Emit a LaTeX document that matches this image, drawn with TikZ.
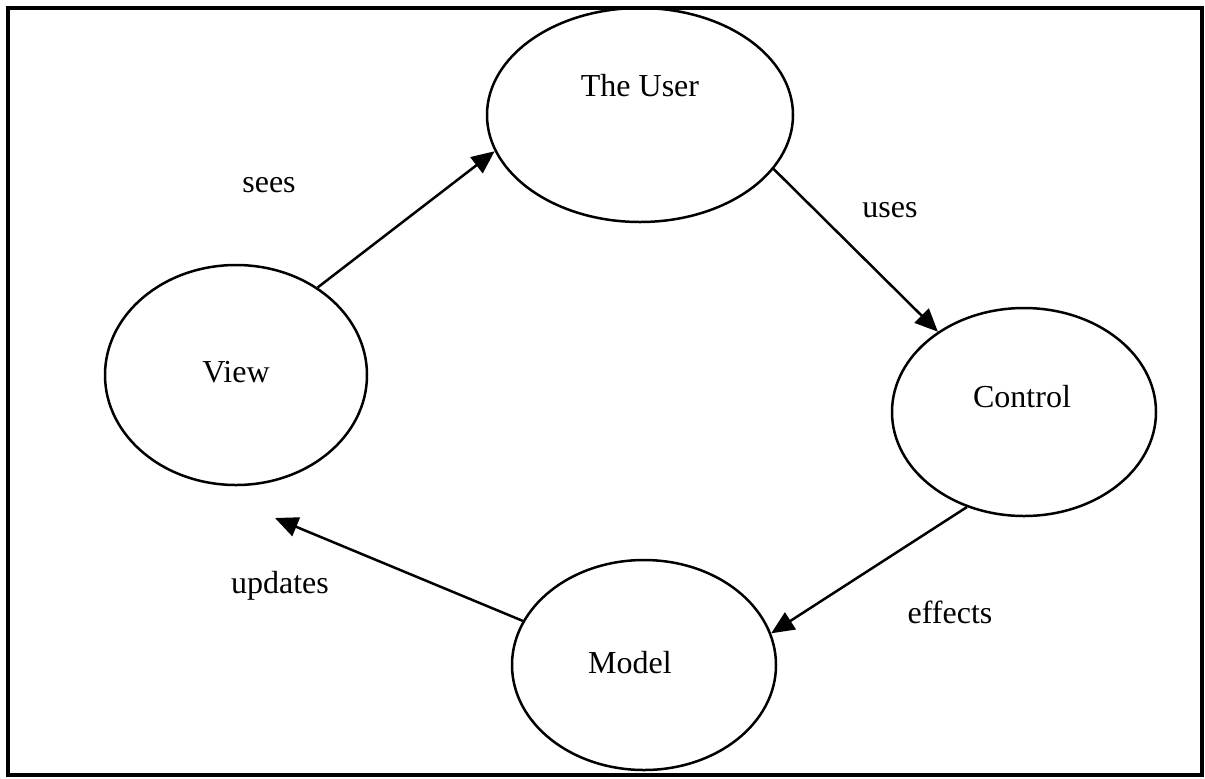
\documentclass[tikz,border=0pt]{standalone}
\usepackage{fontspec}
\setmainfont{Liberation Serif}
\usetikzlibrary{shapes.geometric,arrows.meta}
\begin{document}
\begin{tikzpicture}[x=0.5pt,y=-0.5pt,
  stage/.style={draw, ellipse, line width=1.25pt, inner sep=0pt},
  lbl/.style={font=\fontsize{16}{19}\selectfont, inner sep=0pt},
  flow/.style={line width=1.25pt, -{Triangle[length=11.5pt,width=10pt]}}]
\useasboundingbox (0,0) rectangle (1205,778);
\draw[line width=2pt] (8,8) rectangle (1202,775);

% the four stages of the cycle
\node[stage, minimum width=153pt, minimum height=107pt] (user) at (640,115) {};
\node[stage, minimum width=131pt, minimum height=110pt] (view) at (236,375) {};
\node[stage, minimum width=132pt, minimum height=104pt] (control) at (1024,412) {};
\node[stage, minimum width=132pt, minimum height=105pt] (model) at (644,665) {};

\node[lbl] (usertxt) at (640,86) {The User};
\node[lbl] (viewtxt) at (236,372) {View};
\node[lbl] (controltxt) at (1022,397) {Control};
\node[lbl] (modeltxt) at (630,663) {Model};

% connectors
\coordinate (viewin) at (275,518);
\draw[flow] (view.47) -- (user.194);
\draw[flow] (user.-22) -- (control.137);
\draw[flow] (control.239) -- (model.14);
\draw[flow] (model.160) -- (viewin);

% connector labels
\node[lbl] (sees) at (269,185) {sees};
\node[lbl] (uses) at (890,210) {uses};
\node[lbl] (updates) at (280,586) {updates};
\node[lbl] (effects) at (950,612) {effects};
\end{tikzpicture}
\end{document}
